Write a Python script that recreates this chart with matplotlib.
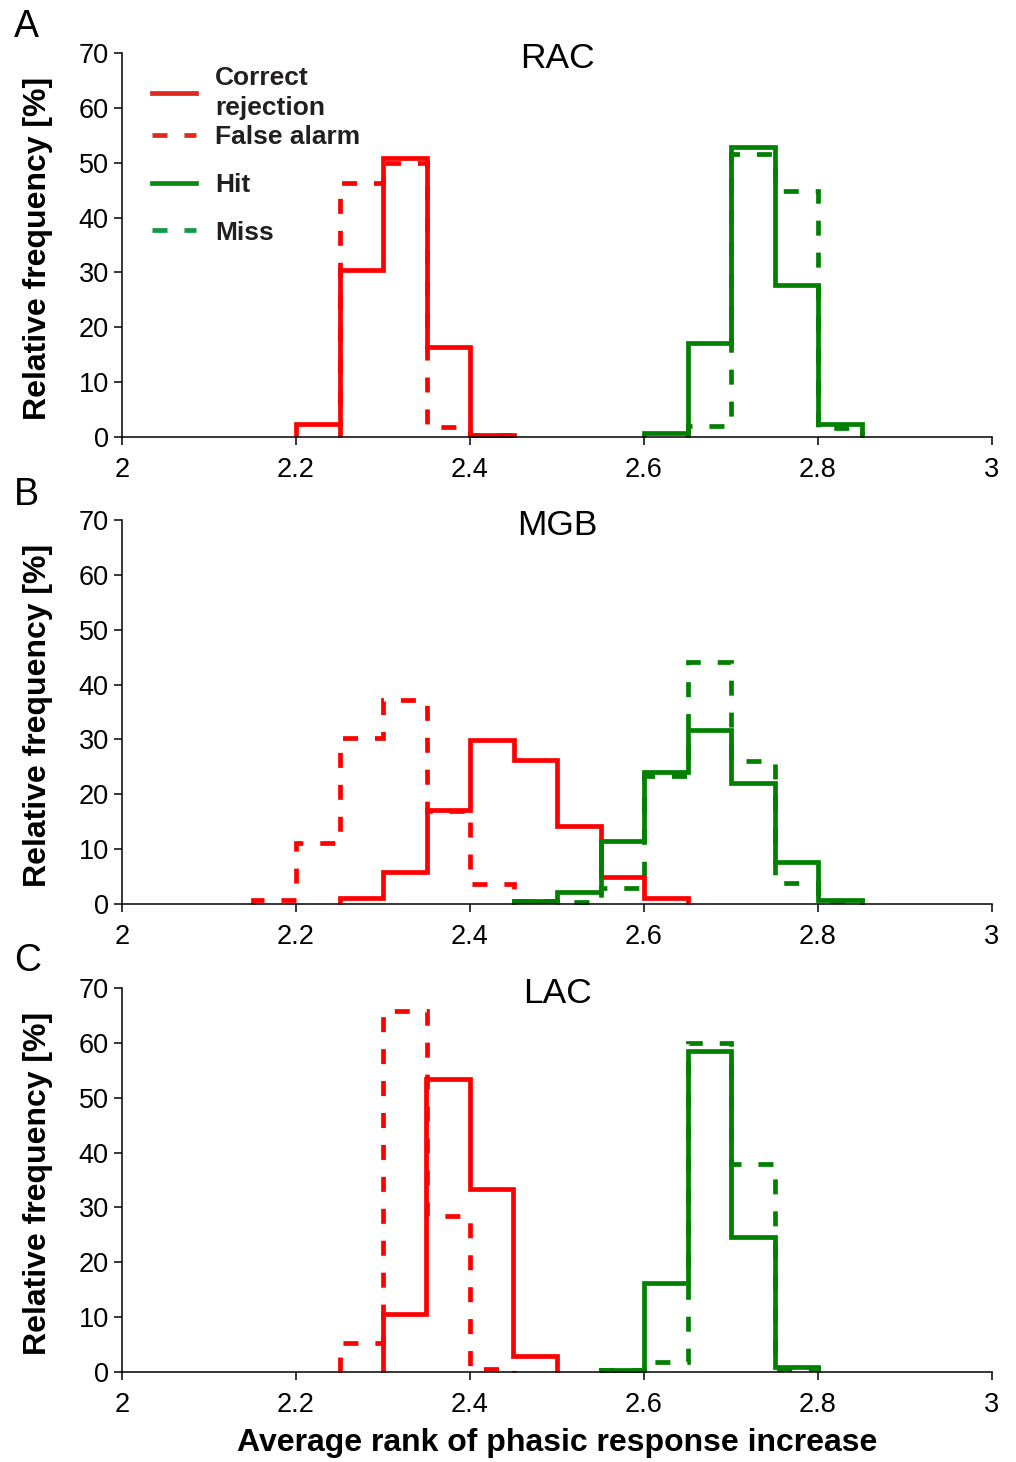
import matplotlib
matplotlib.use('Agg')
import matplotlib.pyplot as plt
import numpy as np
from matplotlib.lines import Line2D

plt.rcParams['font.family'] = ['Liberation Sans', 'DejaVu Sans']

BIN = 0.05

# RAC
rac_cr_start, rac_cr = 2.20, [2.3, 30.4, 50.8, 16.4, 0.4]
rac_fa_start, rac_fa = 2.25, [46.3, 49.9, 1.8, 0.3]
rac_hit_start, rac_hit = 2.60, [0.7, 17.1, 52.8, 27.7, 2.4]
rac_miss_start, rac_miss = 2.65, [2.0, 51.6, 44.8, 1.6]

# MGB
mgb_cr_start, mgb_cr = 2.25, [1.1, 5.8, 17.1, 29.9, 26.2, 14.2, 4.9, 1.1]
mgb_fa_start, mgb_fa = 2.15, [0.7, 11.1, 30.3, 37.2, 17.0, 3.6, 0.5]
mgb_hit_start, mgb_hit = 2.45, [0.5, 2.2, 11.5, 24.1, 31.7, 22.1, 7.7, 0.7]
mgb_miss_start, mgb_miss = 2.45, [0.5, 0.3, 2.9, 23.3, 44.2, 26.0, 3.9, 0.5]

# LAC
lac_cr_start, lac_cr = 2.30, [10.6, 53.4, 33.4, 2.9]
lac_fa_start, lac_fa = 2.25, [5.3, 65.8, 28.5, 0.6]
lac_hit_start, lac_hit = 2.55, [0.4, 16.2, 58.5, 24.6, 0.9]
lac_miss_start, lac_miss = 2.55, [0.3, 1.8, 60.0, 37.9, 0.5]

x_ticks = [2, 2.2, 2.4, 2.6, 2.8, 3]
x_tick_labels = ['2', '2.2', '2.4', '2.6', '2.8', '3']
y_ticks = [0, 10, 20, 30, 40, 50, 60, 70]

RED = '#ff0000'
GREEN = '#008000'
LW = 3.4
# dash pattern is scaled by linewidth, so give it in linewidth units
DASH = (0, (10.8 / LW, 12.2 / LW))


def edges(start, vals):
    return start + BIN * np.arange(len(vals) + 1)


def draw_hist(ax, start, vals, color, ls):
    ax.stairs(vals, edges(start, vals), baseline=0, color=color, lw=LW,
              linestyle=ls, clip_on=False)


def panel(ax, title, series):
    for start, vals, color, ls in series:
        draw_hist(ax, start, vals, color, ls)
    ax.set_xlim(2, 3)
    ax.set_ylim(0, 70)
    ax.set_xticks(x_ticks)
    ax.set_xticklabels(x_tick_labels)
    ax.set_yticks(y_ticks)
    for s in ['top', 'right']:
        ax.spines[s].set_visible(False)
    for s in ['left', 'bottom']:
        ax.spines[s].set_linewidth(1.1)
    ax.tick_params(axis='both', direction='out', length=5.5, width=1.1,
                   labelsize=19.5, colors='black')
    ax.tick_params(axis='x', pad=9)
    ax.tick_params(axis='y', pad=4)
    ax.set_ylabel('Relative frequency [%]', fontsize=23, fontweight='bold')
    ax.yaxis.set_label_coords(-0.079, 0.49)
    ax.text(0.5, 0.961, title, transform=ax.transAxes, ha='center',
            va='baseline', fontsize=25.5)


fig = plt.figure(figsize=(10.16, 14.62), dpi=100)
W, H = 1016, 1462
left = 122 / W
width = 870 / W
height = 384 / H

ax_a = fig.add_axes([left, 1 - 437 / H, width, height])
ax_b = fig.add_axes([left, 1 - 904 / H, width, height])
ax_c = fig.add_axes([left, 1 - 1372 / H, width, height])

panel(ax_a, 'RAC', [
    (rac_fa_start, rac_fa, RED, DASH),
    (rac_miss_start, rac_miss, GREEN, DASH),
    (rac_cr_start, rac_cr, RED, '-'),
    (rac_hit_start, rac_hit, GREEN, '-'),
])
panel(ax_b, 'MGB', [
    (mgb_fa_start, mgb_fa, RED, DASH),
    (mgb_miss_start, mgb_miss, GREEN, DASH),
    (mgb_cr_start, mgb_cr, RED, '-'),
    (mgb_hit_start, mgb_hit, GREEN, '-'),
])
panel(ax_c, 'LAC', [
    (lac_fa_start, lac_fa, RED, DASH),
    (lac_miss_start, lac_miss, GREEN, DASH),
    (lac_cr_start, lac_cr, RED, '-'),
    (lac_hit_start, lac_hit, GREEN, '-'),
])
ax_c.set_xlabel('Average rank of phasic response increase', fontsize=23,
                fontweight='bold', labelpad=7)

# legend (panel A) - two pieces so the two-line entry sits tight
leg_kw = dict(loc='upper left', frameon=False, borderpad=0, borderaxespad=0,
              handlelength=1.67, handletextpad=0.72, labelspacing=0.9,
              prop={'size': 19, 'weight': 'bold'})
h_cr = Line2D([], [], color='#dc2a22', lw=LW, ls='-')
h_fa = Line2D([], [], color='#dc2a22', lw=LW, ls=DASH)
h_hit = Line2D([], [], color='#0a8a10', lw=LW, ls='-')
h_miss = Line2D([], [], color='#0e9a48', lw=LW, ls=DASH)

leg1 = ax_a.legend([h_cr], ['Correct\nrejection'], bbox_to_anchor=(0.0345, 0.966), **leg_kw)
for t in leg1.get_texts():
    t.set_color('#231f20')
    t.set_linespacing(1.3)
ax_a.add_artist(leg1)

leg2 = ax_a.legend([h_fa, h_hit, h_miss], ['False alarm', 'Hit', 'Miss'],
                   bbox_to_anchor=(0.0345, 0.8125), **leg_kw)
for t in leg2.get_texts():
    t.set_color('#231f20')

# panel letters
for letter, base in [('A', 37), ('B', 505), ('C', 971)]:
    fig.text(14 / W, 1 - base / H, letter, fontsize=27, va='baseline', ha='left')

fig.savefig('out.png', dpi=100)
